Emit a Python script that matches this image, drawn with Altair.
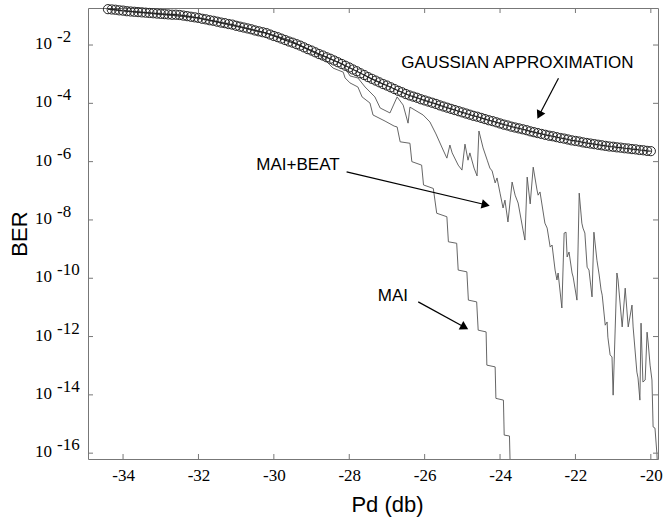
import altair as alt
import numpy as np
import pandas as pd

# ---------------- data ----------------
# Gaussian approximation, log10(BER) sampled every 0.1 dB from -34.4 dB
gauss_start, gauss_step = -34.4, 0.1
gauss_log = [-0.77, -0.78, -0.79, -0.81, -0.82, -0.84, -0.85, -0.86, -0.87, -0.88,
             -0.89, -0.90, -0.91, -0.92, -0.93, -0.94, -0.95, -0.96, -0.96, -0.97,
             -0.99, -1.01, -1.03, -1.05, -1.07, -1.10, -1.12, -1.15, -1.17, -1.20,
             -1.23, -1.25, -1.28, -1.30, -1.34, -1.37, -1.40, -1.43, -1.46, -1.50,
             -1.53, -1.56, -1.59, -1.64, -1.69, -1.73, -1.78, -1.83, -1.88, -1.92,
             -1.97, -2.02, -2.08, -2.14, -2.19, -2.25, -2.31, -2.36, -2.42, -2.47,
             -2.53, -2.59, -2.65, -2.71, -2.77, -2.84, -2.90, -2.97, -3.03, -3.10,
             -3.16, -3.22, -3.28, -3.34, -3.39, -3.45, -3.51, -3.57, -3.62, -3.68,
             -3.73, -3.77, -3.81, -3.86, -3.90, -3.94, -3.98, -4.02, -4.07, -4.11,
             -4.15, -4.19, -4.23, -4.27, -4.31, -4.35, -4.39, -4.43, -4.46, -4.50,
             -4.54, -4.58, -4.61, -4.65, -4.69, -4.73, -4.76, -4.80, -4.83, -4.86,
             -4.89, -4.92, -4.96, -4.99, -5.02, -5.05, -5.08, -5.11, -5.13, -5.16,
             -5.19, -5.21, -5.24, -5.27, -5.29, -5.31, -5.34, -5.36, -5.38, -5.40,
             -5.42, -5.44, -5.46, -5.48, -5.49, -5.51, -5.52, -5.54, -5.55, -5.57,
             -5.58, -5.60, -5.61, -5.63, -5.64]
gauss_pd = [round(gauss_start + gauss_step * i, 2) for i in range(len(gauss_log))]

# MAI only (staircase)
mai_pd = [-34.40, -32.00, -30.20, -29.57, -28.72, -28.43, -28.16, -28.11, -27.98,
          -27.77, -27.66, -27.45, -27.37, -27.05, -26.81, -26.73, -26.65, -26.39,
          -26.34, -26.08, -26.03, -25.77, -25.68, -25.41, -25.37, -25.15, -25.11,
          -24.88, -24.84, -24.62, -24.58, -24.37, -24.35, -24.13, -24.11, -23.91,
          -23.89, -23.75, -23.72]
mai_log = [-0.77, -1.07, -1.59, -1.84, -2.41, -2.79, -2.93, -3.13, -3.30,
           -3.44, -3.78, -3.99, -4.40, -4.61, -4.78, -4.81, -5.32, -5.37,
           -6.00, -6.12, -6.80, -6.92, -7.77, -7.89, -8.75, -8.80, -9.72,
           -9.78, -10.75, -10.81, -11.78, -11.84, -12.98, -13.04, -14.12, -14.18,
           -15.38, -15.41, -17.00]

# MAI + beat noise (jagged)
beat_pd = [-34.40, -32.00, -30.20, -29.57, -28.77, -28.38, -28.16, -27.98, -27.77,
           -27.58, -27.32, -27.18, -26.92, -26.73, -26.57, -26.44, -26.39, -26.04,
           -25.86, -25.70, -25.51, -25.41, -25.33, -25.27, -25.11, -25.01, -24.93,
           -24.85, -24.80, -24.69, -24.61, -24.56, -24.45, -24.34, -24.27, -24.21,
           -24.13, -24.08, -24.00, -23.92, -23.87, -23.79, -23.68, -23.60, -23.52,
           -23.39, -23.34, -23.28, -23.20, -23.12, -23.02, -22.99, -22.94, -22.81,
           -22.75, -22.67, -22.62, -22.54, -22.49, -22.46, -22.36, -22.30, -22.25,
           -22.22, -22.17, -22.09, -22.06, -21.96, -21.90, -21.83, -21.80, -21.75,
           -21.69, -21.64, -21.56, -21.51, -21.43, -21.37, -21.32, -21.29, -21.21,
           -21.16, -21.14, -21.08, -21.03, -21.00, -20.90, -20.87, -20.76, -20.68,
           -20.60, -20.50, -20.47, -20.37, -20.34, -20.29, -20.26, -20.21, -20.15,
           -20.10, -20.07, -20.02, -19.97, -19.94, -19.89, -19.84, -19.81]
beat_log = [-0.77, -1.07, -1.59, -1.84, -2.34, -2.55, -2.65, -3.06, -3.13,
            -3.44, -3.78, -4.16, -4.33, -3.78, -4.06, -4.68, -4.13, -4.40,
            -4.64, -5.05, -5.60, -5.88, -5.43, -5.70, -6.12, -6.29, -5.40,
            -5.95, -5.70, -6.22, -6.49, -4.95, -5.53, -5.95, -6.22, -6.32,
            -6.73, -6.56, -7.08, -7.59, -7.32, -8.07, -6.70, -7.15, -7.42,
            -8.35, -8.69, -6.53, -7.45, -6.19, -6.97, -7.15, -7.04, -8.11,
            -8.28, -8.93, -8.86, -9.72, -10.06, -9.82, -11.02, -8.45, -8.42,
            -9.27, -9.10, -9.82, -9.96, -10.75, -7.08, -8.11, -8.28, -8.45,
            -9.62, -9.72, -10.64, -8.42, -9.38, -9.89, -10.40, -10.58, -11.61,
            -11.50, -12.02, -12.63, -12.70, -14.01, -9.82, -10.06, -11.67, -10.34,
            -11.67, -10.92, -11.67, -13.22, -13.42, -14.18, -11.54, -13.56, -13.49,
            -11.85, -12.22, -12.98, -13.49, -15.10, -15.14, -16.00, -16.75]

x_ticks = [-34, -32, -30, -28, -26, -24, -22, -20]
y_tick_exp = [-2, -4, -6, -8, -10, -12, -14, -16]

# annotations
ann_text = ["GAUSSIAN APPROXIMATION", "MAI+BEAT", "MAI"]
ann_pd = [-23.54, -29.36, -26.84]
ann_log = [-2.62, -6.12, -10.61]
arr_pd0 = [-22.45, -28.07, -26.17]
arr_log0 = [-3.14, -6.35, -10.81]
arr_pd1 = [-22.96, -24.38, -24.94]
arr_log1 = [-4.40, -7.48, -11.68]
arr_angle = [207, 103, 119]

# ---------------- chart ----------------
W, H = 570, 451
SERIF = "Liberation Serif, Times New Roman, serif"
SANS = "Liberation Sans, Arial, sans-serif"
xs = alt.Scale(domain=[-34.93, -19.81], nice=False, zero=False)
ys = alt.Scale(type="log", domain=[10 ** -16.2, 10 ** -0.73], nice=False)

gdf = pd.DataFrame({"pd": gauss_pd, "ber": 10 ** np.array(gauss_log), "i": range(len(gauss_log))})
mdf = pd.DataFrame({"pd": mai_pd, "ber": 10 ** np.array(mai_log), "i": range(len(mai_log))})
bdf = pd.DataFrame({"pd": beat_pd, "ber": 10 ** np.array(beat_log), "i": range(len(beat_log))})

x_axis = alt.Axis(values=x_ticks, labelExpr="'' + datum.value", labelFont=SERIF,
                  labelFontSize=17, labelColor="black", labelPadding=8, labelFlush=False,
                  labelOverlap=False,
                  ticks=False, tickSize=0, domain=False, grid=False,
                  title="Pd (db)", titleFont=SANS, titleFontSize=22,
                  titleFontWeight="normal", titleColor="black", titleX=299, titleY=52,
                  titleAlign="center", titleBaseline="alphabetic")
y_axis = alt.Axis(labels=False, ticks=False, domain=False, grid=False,
                  title="BER", titleFont=SANS, titleFontSize=22,
                  titleFontWeight="normal", titleColor="black", titleAngle=270,
                  titleX=-62, titleY=225.5, titleAlign="center", titleBaseline="alphabetic")


def X(field):
    return alt.X(field, scale=xs, axis=x_axis)


def Y(field):
    return alt.Y(field, scale=ys, axis=y_axis)


mai_line = alt.Chart(mdf).mark_line(color="#555", strokeWidth=0.9, clip=True).encode(
    x=X("pd:Q"), y=Y("ber:Q"), order="i:Q")
beat_line = alt.Chart(bdf).mark_line(color="#555", strokeWidth=0.9, clip=True).encode(
    x=X("pd:Q"), y=Y("ber:Q"), order="i:Q")
gauss_line = alt.Chart(gdf).mark_line(color="#222", strokeWidth=1.2).encode(
    x=X("pd:Q"), y=Y("ber:Q"), order="i:Q")
gauss_pts = alt.Chart(gdf).mark_point(shape="circle", filled=False, color="#262626",
                                      strokeWidth=1.0, size=85, opacity=1).encode(
    x=X("pd:Q"), y=Y("ber:Q"))

# inward ticks on all four sides
xt = pd.DataFrame({"t": x_ticks})
yt = pd.DataFrame({"t": [10.0 ** e for e in y_tick_exp]})
tick_col = "#777"
xb = alt.Chart(xt).mark_rule(color=tick_col).encode(
    x=X("t:Q"), y=alt.value(H), y2=alt.value(H - 5))
xtp = alt.Chart(xt).mark_rule(color=tick_col).encode(
    x=X("t:Q"), y=alt.value(0), y2=alt.value(5))
yl = alt.Chart(yt).mark_rule(color=tick_col).encode(
    y=Y("t:Q"), x=alt.value(0), x2=alt.value(5))
yr = alt.Chart(yt).mark_rule(color=tick_col).encode(
    y=Y("t:Q"), x=alt.value(W), x2=alt.value(W - 5))

# y tick labels "10" with raised exponent
ylab = pd.DataFrame({"t": [10.0 ** e for e in y_tick_exp],
                     "base": ["10"] * len(y_tick_exp),
                     "exp": [str(e) for e in y_tick_exp]})
ybase = alt.Chart(ylab).mark_text(align="right", baseline="alphabetic", dy=4,
                                  font=SERIF, fontSize=17, color="black").encode(
    y=Y("t:Q"), x=alt.value(-36), text="base:N")
yexp = alt.Chart(ylab).mark_text(align="left", baseline="alphabetic", dy=-3,
                                 font=SERIF, fontSize=17, color="black").encode(
    y=Y("t:Q"), x=alt.value(-31), text="exp:N")

# annotations
adf = pd.DataFrame({"label": ann_text, "pd": ann_pd, "ber": 10 ** np.array(ann_log)})
rdf = pd.DataFrame({"x0": arr_pd0, "y0": 10 ** np.array(arr_log0),
                    "x1": arr_pd1, "y1": 10 ** np.array(arr_log1), "ang": arr_angle})
labels = alt.Chart(adf).mark_text(font=SANS, fontSize=17, color="black",
                                  align="center", baseline="middle").encode(
    x=X("pd:Q"), y=Y("ber:Q"), text="label:N")
arrows = alt.Chart(rdf).mark_rule(color="black", strokeWidth=1.2).encode(
    x=X("x0:Q"), y=Y("y0:Q"), x2="x1:Q", y2="y1:Q")
heads = alt.Chart(rdf).mark_point(shape="triangle-up", filled=True, color="black",
                                  size=90, opacity=1).encode(
    x=X("x1:Q"), y=Y("y1:Q"), angle=alt.Angle("ang:Q", scale=None))

chart = alt.layer(
    mai_line, beat_line, gauss_line, gauss_pts,
    xb, xtp, yl, yr, ybase, yexp, labels, arrows, heads
).properties(
    width=W, height=H,
    autosize=alt.AutoSizeParams(type="none"),
    padding={"left": 88, "top": 8, "right": 9, "bottom": 58},
    background="white"
).configure_view(stroke="#777", strokeWidth=1)

chart.save("out.html", embed_options={"renderer": "svg", "actions": False})
